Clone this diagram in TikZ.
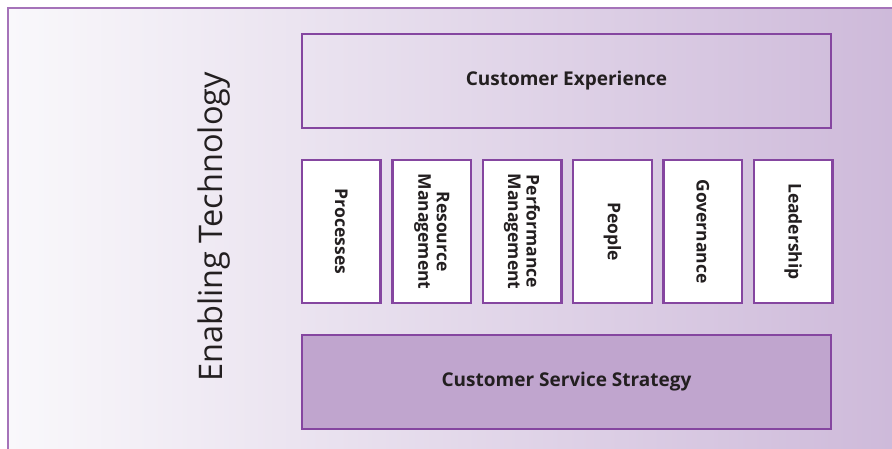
\documentclass[tikz,border=0pt]{standalone}
\usepackage{fontspec}
\setmainfont{Open Sans}
\usetikzlibrary{positioning}
\definecolor{plum}{RGB}{133,70,160}
\definecolor{lilac}{RGB}{165,115,185}
\definecolor{mist}{RGB}{249,248,251}
\definecolor{heather}{RGB}{206,186,218}
\definecolor{strategyfill}{RGB}{192,165,206}
\definecolor{ink}{RGB}{35,31,32}

\begin{document}
\begin{tikzpicture}[
  x=1pt, y=-1pt,
  wide/.style={rectangle, draw=plum, line width=2.4pt, minimum width=529pt,
               minimum height=94pt, font=\bfseries\fontsize{19}{22}\selectfont, text=ink},
  pillar/.style={rectangle, draw=plum, line width=2.4pt, fill=white, rotate=-90,
                 minimum width=143pt, minimum height=78.5pt, align=center,
                 font=\bfseries\fontsize{17.5}{18.5}\selectfont, text=ink, inner sep=2pt}
]
\useasboundingbox (0,0) rectangle (892,449);

% background panel with its frame on two sides
\shade[left color=mist, right color=heather] (8,8) rectangle (892,449);
\draw[lilac, line width=2pt] (8,449) -- (8,8) -- (892,8);

\node[rotate=90, text=ink, font=\fontsize{32.5}{36}\selectfont] (tech) at (214,227) {Enabling Technology};

\node[wide] (experience) at (566.5,81) {Customer Experience};

% the six pillars
\foreach \name/\label [count=\i from 0] in {proc/Processes, res/Resource\\Management,
    perf/Performance\\Management, people/People, gov/Governance, lead/Leadership}
  \node[pillar] (\name) at (341.25+\i*90.4,231.5) {\label};

\node[wide, fill=strategyfill] (strategy) at (566.5,382) {Customer Service Strategy};

\end{tikzpicture}
\end{document}
